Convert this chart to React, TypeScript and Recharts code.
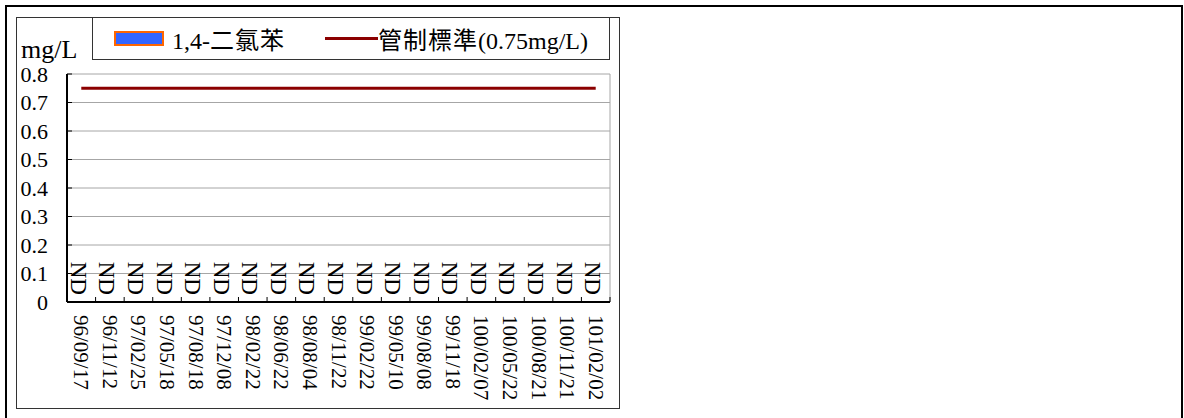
import React from 'react';
import { ComposedChart, Bar, Line, XAxis, YAxis, CartesianGrid, Legend, LabelList } from 'recharts';

// sampling dates (ROC calendar)
const dates = [
  '96/09/17', '96/11/12', '97/02/25', '97/05/18', '97/08/18', '97/12/08',
  '98/02/22', '98/06/22', '98/08/04', '98/11/22', '99/02/22', '99/05/10',
  '99/08/08', '99/11/18', '100/02/07', '100/05/22', '100/08/21', '100/11/21', '101/02/02',
];
// every sample was not detected
const dichlorobenzene = [0, 0, 0, 0, 0, 0, 0, 0, 0, 0, 0, 0, 0, 0, 0, 0, 0, 0, 0];
const resultLabels = ['ND', 'ND', 'ND', 'ND', 'ND', 'ND', 'ND', 'ND', 'ND', 'ND', 'ND', 'ND', 'ND', 'ND', 'ND', 'ND', 'ND', 'ND', 'ND'];
const controlStandard = [0.75, 0.75, 0.75, 0.75, 0.75, 0.75, 0.75, 0.75, 0.75, 0.75, 0.75, 0.75, 0.75, 0.75, 0.75, 0.75, 0.75, 0.75, 0.75];
const yTicks = [0, 0.1, 0.2, 0.3, 0.4, 0.5, 0.6, 0.7, 0.8];

const data = dates.map((date, i) => ({
  date,
  value: dichlorobenzene[i],
  label: resultLabels[i],
  standard: controlStandard[i],
}));

const FONT = "'Liberation Serif', 'Noto Sans CJK TC', serif";
const Y_GAP = 19;

const DateTick = (props: any) => {
  const { x, y, payload, index, width, visibleTicksCount } = props;
  const half = payload?.offset || width / (visibleTicksCount || dates.length) / 2;
  const last = index === dates.length - 1;
  return (
    <g>
      <line x1={x - half} x2={x - half} y1={y} y2={y - 5} stroke="#000" strokeWidth={1} />
      {last && <line x1={x + half} x2={x + half} y1={y} y2={y - 5} stroke="#000" strokeWidth={1} />}
      <text
        x={x}
        y={y + 13}
        transform={`rotate(90, ${x}, ${y + 13})`}
        textAnchor="start"
        dominantBaseline="central"
        fontFamily={FONT}
        fontSize={21}
        fill="#000"
      >
        {payload.value}
      </text>
    </g>
  );
};

const ValueTick = (props: any) => {
  const { x, y, payload } = props;
  return (
    <g>
      <line x1={x + Y_GAP} x2={x + Y_GAP + 5} y1={y} y2={y} stroke="#000" strokeWidth={1} />
      <text x={x} y={y} textAnchor="end" dominantBaseline="central" fontFamily={FONT} fontSize={22} fill="#000">
        {payload.value === 0 ? '0' : Number(payload.value).toFixed(1)}
      </text>
    </g>
  );
};

// "ND" drawn just above the zero line of each sample
const NdLabel = (props: any) => {
  const { x, y, value } = props;
  const cx = x - 3;
  const ty = y - 7;
  return (
    <text
      x={cx}
      y={ty}
      transform={`rotate(90, ${cx}, ${ty})`}
      textAnchor="end"
      dominantBaseline="central"
      fontFamily={FONT}
      fontSize={23}
      fill="#000"
    >
      {value}
    </text>
  );
};

// widen the CJK glyphs a little, like the original font
const spaced = (text: string) =>
  text.split(/([\u4e00-\u9fff]+)/).map((part, i) =>
    /[\u4e00-\u9fff]/.test(part) ? (
      <span key={i} style={{ letterSpacing: 1 }}>{part}</span>
    ) : (
      <span key={i}>{part}</span>
    ),
  );

const LegendContent = (props: any) => {
  const { payload } = props;
  return (
    <div style={{ display: 'flex', alignItems: 'center', height: '100%', fontFamily: FONT, fontSize: 24, color: '#000' }}>
      {payload
        .filter((entry: any) => entry.type !== 'none')
        .map((entry: any, i: number) => (
          <div key={i} style={{ display: 'flex', alignItems: 'center', marginLeft: i === 0 ? 21 : 40 }}>
            {entry.type === 'line' ? (
              <span style={{ display: 'inline-block', width: 53, height: 3, background: entry.color }} />
            ) : (
              <span
                style={{
                  display: 'inline-block',
                  width: 46,
                  height: 11,
                  background: '#3366FF',
                  border: '2px solid #FF6600',
                  marginRight: 8,
                }}
              />
            )}
            <span>{spaced(entry.value)}</span>
          </div>
        ))}
    </div>
  );
};

export default function App() {
  return (
    <div style={{ position: 'relative', width: 1184, height: 418, background: '#fff', overflow: 'hidden' }}>
      <style>{'body{margin:0}'}</style>
      <div
        style={{
          position: 'absolute',
          left: 5,
          top: 5,
          width: 1174,
          height: 420,
          borderTop: '2px solid #000',
          borderLeft: '2px solid #000',
          borderRight: '2px solid #000',
        }}
      />
      <div
        style={{
          position: 'absolute',
          left: 16,
          top: 17,
          width: 602,
          height: 390,
          border: '1px solid #333',
        }}
      />
      <ComposedChart
        width={1184}
        height={418}
        data={data}
        margin={{ top: 74, right: 574, bottom: 16, left: 17 }}
        style={{ position: 'absolute', left: 0, top: 0 }}
      >
        <CartesianGrid
          stroke="#a6a6a6"
          horizontal
          vertical
          verticalCoordinatesGenerator={({ offset }: any) => [offset.left + offset.width]}
        />
        <XAxis
          dataKey="date"
          height={100}
          interval={0}
          tickSize={0}
          tickMargin={0}
          tickLine={false}
          axisLine={{ stroke: '#000', strokeWidth: 2 }}
          tick={<DateTick />}
        />
        <YAxis
          width={50}
          domain={[0, 0.8]}
          ticks={yTicks}
          interval={0}
          tickSize={0}
          tickMargin={Y_GAP}
          tickLine={false}
          axisLine={{ stroke: '#000', strokeWidth: 2 }}
          tick={<ValueTick />}
          label={{
            content: ({ viewBox }: any) => (
              <text x={viewBox.x + 4} y={viewBox.y - 16} fontFamily={FONT} fontSize={26} fill="#000">
                mg/L
              </text>
            ),
          }}
        />
        <Legend
          layout="vertical"
          align="center"
          verticalAlign="middle"
          width={518}
          height={43}
          wrapperStyle={{ left: 92, top: 17, border: '1px solid #333', boxSizing: 'border-box', background: '#fff' }}
          content={<LegendContent />}
        />
        <Bar
          dataKey="value"
          name="1,4-二氯苯"
          fill="#3366FF"
          stroke="#FF6600"
          barSize={20}
          isAnimationActive={false}
        />
        {/* carries the ND labels at the zero line of each bar */}
        <Line
          dataKey="value"
          stroke="none"
          dot={false}
          legendType="none"
          isAnimationActive={false}
        >
          <LabelList dataKey="label" content={<NdLabel />} />
        </Line>
        <Line
          dataKey="standard"
          name="管制標準(0.75mg/L)"
          type="linear"
          stroke="#8B0000"
          strokeWidth={3}
          dot={false}
          isAnimationActive={false}
        />
      </ComposedChart>
    </div>
  );
}
